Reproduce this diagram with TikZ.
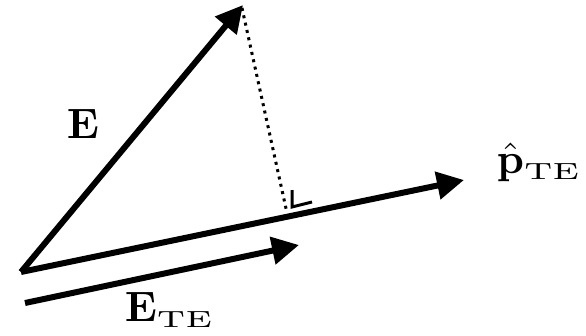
\documentclass[tikz,border=0pt]{standalone}
\usepackage{amsmath}
\usepackage{graphicx}
\usetikzlibrary{arrows.meta}
\newcommand{\tesub}{\hbox{\fontsize{5.5}{6}\selectfont\scalebox{1.4}[1]{TE}}}
\begin{document}
\begin{tikzpicture}[x=1pt,y=-1pt,
  vec/.style={line width=6pt,-{Triangle[length=27pt,width=27pt]}},
  dotline/.style={line width=3pt,dash pattern=on 3pt off 4.5pt},
  rmark/.style={line width=3pt},
  lbl/.style={scale=4.25,inner sep=0pt}]
\useasboundingbox (0,0) rectangle (586,335);
\coordinate (O) at (21,272);
\coordinate (Et) at (243,5);
\coordinate (Pt) at (464,180);
\coordinate (Ts) at (25,303);
\coordinate (Tt) at (299,245);
\coordinate (D1) at (242,8);
\coordinate (D2) at (287,213);
\coordinate (R1) at (292,190);
\coordinate (R2) at (292,207);
\coordinate (R3) at (312,202);
\draw[vec] (O) -- (Et);
\draw[vec] (O) -- (Pt);
\draw[vec] (Ts) -- (Tt);
\draw[dotline] (D1) -- (D2);
\draw[rmark] (R1) -- (R2) -- (R3);
\node[lbl,anchor=base west] (lE) at (66,138) {$\mathbf{E}$};
\node[lbl,anchor=base west] (lP) at (496,173) {$\hat{\mathbf{p}}_{\tesub}$};
\node[lbl,anchor=base west] (lT) at (124,321) {$\mathbf{E}_{\tesub}$};
\end{tikzpicture}
\end{document}
